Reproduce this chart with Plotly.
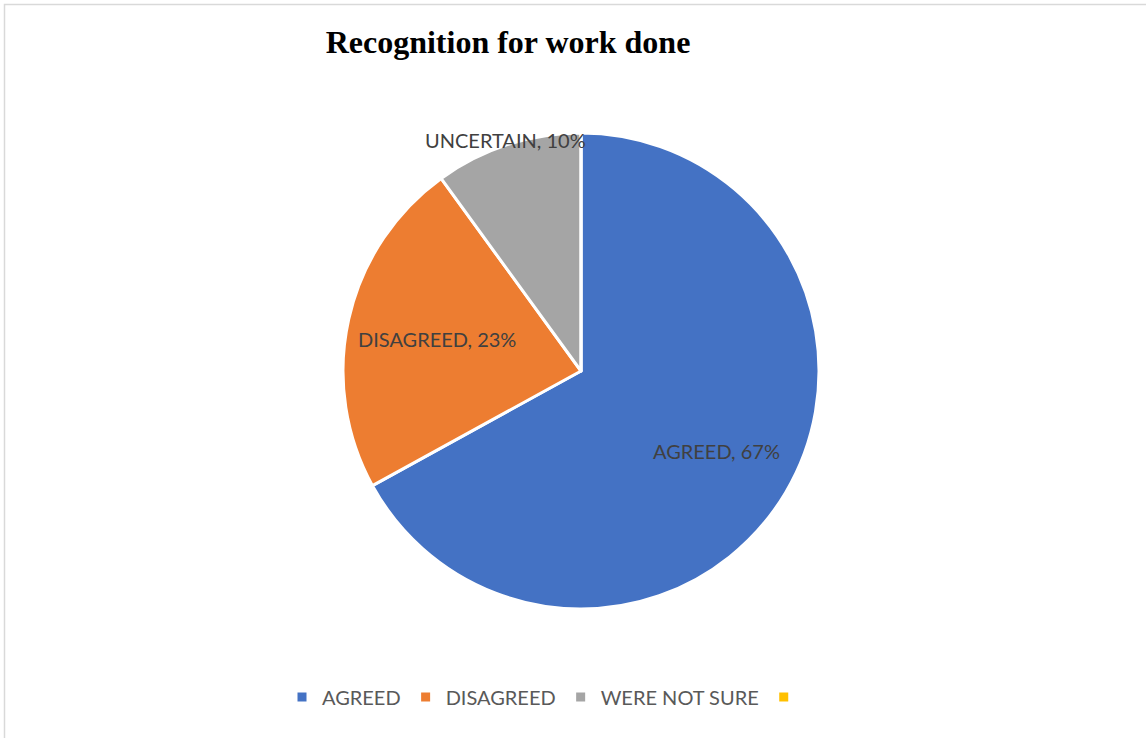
import math
import plotly.graph_objects as go

# Survey responses on recognition for work done
legend_labels = ["AGREED", "DISAGREED", "WERE NOT SURE", " "]
slice_names = ["AGREED", "DISAGREED", "UNCERTAIN", ""]
shares = [67, 23, 10, 0]
colors = ["#4472C4", "#ED7D31", "#A5A5A5", "#FFC000"]
# radial placement of each data label, as a fraction of the radius
label_radius = [0.66, 0.62, 1.02, 0.0]

W, H = 1146, 738
cx, cy, r = 581, 371, 238

fig = go.Figure(
    go.Pie(
        labels=legend_labels,
        values=shares,
        textinfo="none",
        marker=dict(colors=colors, line=dict(color="white", width=3)),
        sort=False,
        direction="clockwise",
        rotation=0,
        showlegend=True,
        domain=dict(
            x=[(cx - r) / W, (cx + r) / W],
            y=[(H - cy - r) / H, (H - cy + r) / H],
        ),
    )
)

# data labels at each slice's mid-angle (clockwise from 12 o'clock)
total = sum(shares)
cum = 0
annotations = []
for name, v, f in zip(slice_names, shares, label_radius):
    if v > 0:
        theta = 2 * math.pi * (cum + v / 2) / total
        px = cx + f * r * math.sin(theta)
        py = cy - f * r * math.cos(theta)
        annotations.append(
            dict(
                text=f"{name}, {v}%",
                x=px / W,
                y=1 - py / H,
                xref="paper",
                yref="paper",
                showarrow=False,
                xanchor="center",
                yanchor="middle",
                font=dict(family="Lato, Open Sans, sans-serif", size=20, color="#404040"),
            )
        )
    cum += v

fig.update_layout(
    width=W,
    height=H,
    margin=dict(l=0, r=0, t=0, b=0),
    paper_bgcolor="white",
    title=dict(
        text="<b>Recognition for work done</b>",
        x=508 / W,
        xanchor="center",
        y=1 - 42 / H,
        yanchor="middle",
        font=dict(family="Liberation Serif, Times New Roman, serif", size=32, color="black"),
    ),
    legend=dict(
        orientation="h",
        x=548 / W,
        xanchor="center",
        y=1 - 697 / H,
        yanchor="middle",
        itemwidth=30,
        font=dict(family="Lato, Open Sans, sans-serif", size=20, color="#595959"),
    ),
    annotations=annotations,
    shapes=[
        dict(
            type="rect",
            xref="paper",
            yref="paper",
            x0=4.5 / W,
            x1=1.02,
            y0=-0.02,
            y1=1 - 4.5 / H,
            line=dict(color="#D9D9D9", width=1.5),
            fillcolor="rgba(0,0,0,0)",
            layer="below",
        )
    ],
)

fig.write_html("out.html")
